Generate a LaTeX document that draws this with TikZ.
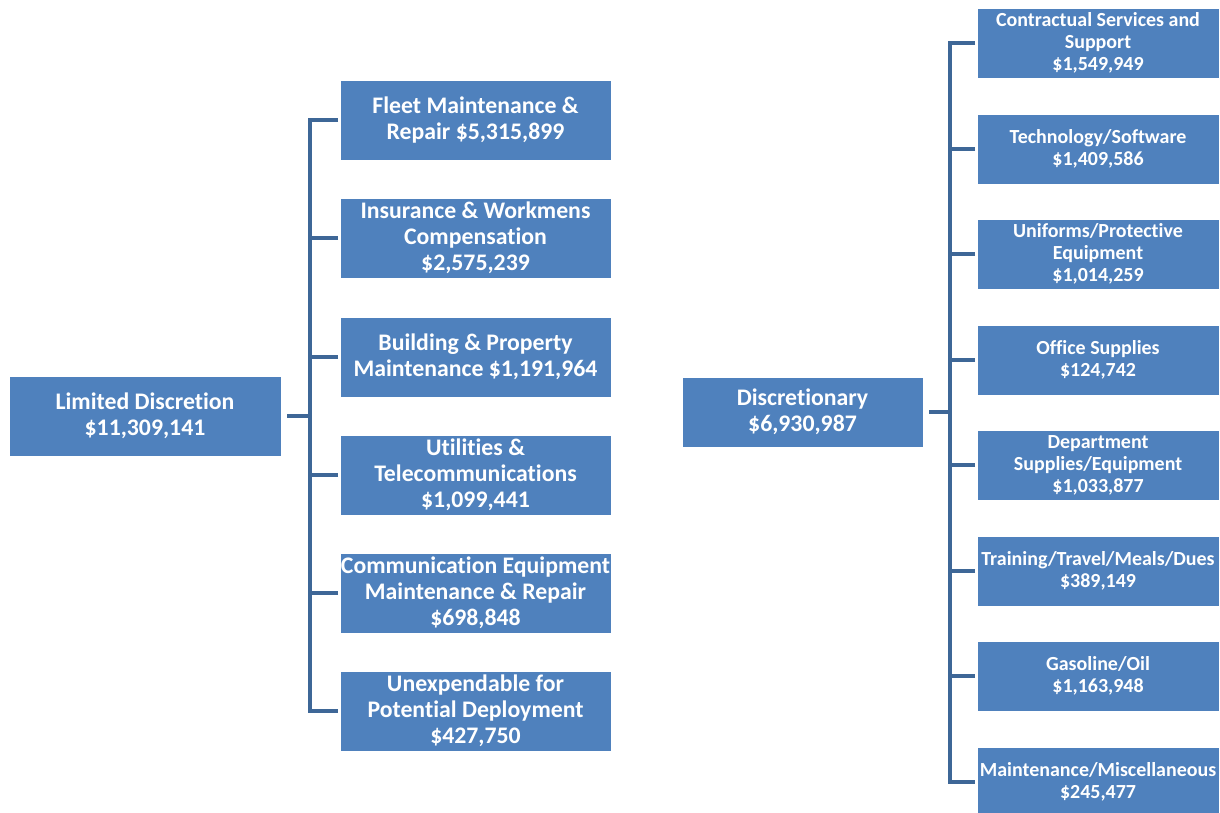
\documentclass[tikz,border=0pt]{standalone}
\usepackage{fontspec}
\setmainfont{Carlito}[Ligatures={NoCommon,NoRare,NoContextual}]
\usepackage{tikz}
\usetikzlibrary{positioning,calc}
\definecolor{boxBlue}{HTML}{4F81BD}
\definecolor{lineBlue}{HTML}{3E6797}

\tikzset{
  bigbox/.style={fill=boxBlue,draw=white,line width=0.6pt,text=white,align=center,inner sep=0pt,
    font=\fontsize{16.9}{18.5}\selectfont\bfseries},
  leftbox/.style={bigbox,minimum width=6.775cm,minimum height=2cm},
  rightbox/.style={bigbox,minimum width=6.05cm,minimum height=1.75cm,
    font=\fontsize{14.2}{15.6}\selectfont\bfseries},
  tree/.style={draw=lineBlue,line width=2.4pt}
}

\begin{document}
\begin{tikzpicture}[x=0.025cm,y=-0.025cm]
  \useasboundingbox (0,0) rectangle (1220,812);

  % limited discretion side
  \node[leftbox,minimum width=6.8cm] (lim) at (145,416) {Limited Discretion\\\$11,309,141};
  \node[leftbox] (fleet) at (475.5,120) {Fleet Maintenance \&\\Repair \$5,315,899};
  \node[leftbox] (ins) at (475.5,238) {Insurance \& Workmens\\Compensation\\\$2,575,239};
  \node[leftbox] (bld) at (475.5,357) {Building \& Property\\Maintenance \$1,191,964};
  \node[leftbox] (util) at (475.5,475) {Utilities \&\\Telecommunications\\\$1,099,441};
  \node[leftbox] (comm) at (475.5,593) {Communication Equipment\\Maintenance \& Repair\\\$698,848};
  \node[leftbox] (unexp) at (475.5,711) {Unexpendable for\\Potential Deployment\\\$427,750};
  \coordinate (tl) at (310,416);

  \draw[tree] ([xshift=4pt]lim.east) -- (lim.east -| tl);
  \draw[tree] ([xshift=-1pt]fleet.west) -- (fleet.west -| tl) -- (unexp.west -| tl) -- ([xshift=-1pt]unexp.west);
  \draw[tree] ([xshift=-1pt]ins.west) -- (ins.west -| tl);
  \draw[tree] ([xshift=-1pt]bld.west) -- (bld.west -| tl);
  \draw[tree] ([xshift=-1pt]util.west) -- (util.west -| tl);
  \draw[tree] ([xshift=-1pt]comm.west) -- (comm.west -| tl);

  % discretionary side
  \node[rightbox,minimum width=6.025cm,font=\fontsize{16.9}{18.5}\selectfont\bfseries] (disc) at (802.5,412) {Discretionary\\\$6,930,987};
  \node[rightbox] (contr) at (1098,43) {Contractual Services and\\Support\\\$1,549,949};
  \node[rightbox] (tech) at (1098,149) {Technology/Software\\\$1,409,586};
  \node[rightbox] (unif) at (1098,254) {Uniforms/Protective\\Equipment\\\$1,014,259};
  \node[rightbox] (office) at (1098,360) {Office Supplies\\\$124,742};
  \node[rightbox] (dept) at (1098,465) {Department\\Supplies/Equipment\\\$1,033,877};
  \node[rightbox] (train) at (1098,571) {Training/Travel/Meals/Dues\\\$389,149};
  \node[rightbox] (gas) at (1098,676) {Gasoline/Oil\\\$1,163,948};
  \node[rightbox] (maint) at (1098,782) {Maintenance/Miscellaneous\\\$245,477};
  \coordinate (tr) at (950,412);

  \draw[tree] ([xshift=4pt]disc.east) -- (disc.east -| tr);
  \draw[tree] ([xshift=-1pt]contr.west) -- (contr.west -| tr) -- (maint.west -| tr) -- ([xshift=-1pt]maint.west);
  \draw[tree] ([xshift=-1pt]tech.west) -- (tech.west -| tr);
  \draw[tree] ([xshift=-1pt]unif.west) -- (unif.west -| tr);
  \draw[tree] ([xshift=-1pt]office.west) -- (office.west -| tr);
  \draw[tree] ([xshift=-1pt]dept.west) -- (dept.west -| tr);
  \draw[tree] ([xshift=-1pt]train.west) -- (train.west -| tr);
  \draw[tree] ([xshift=-1pt]gas.west) -- (gas.west -| tr);
\end{tikzpicture}
\end{document}
